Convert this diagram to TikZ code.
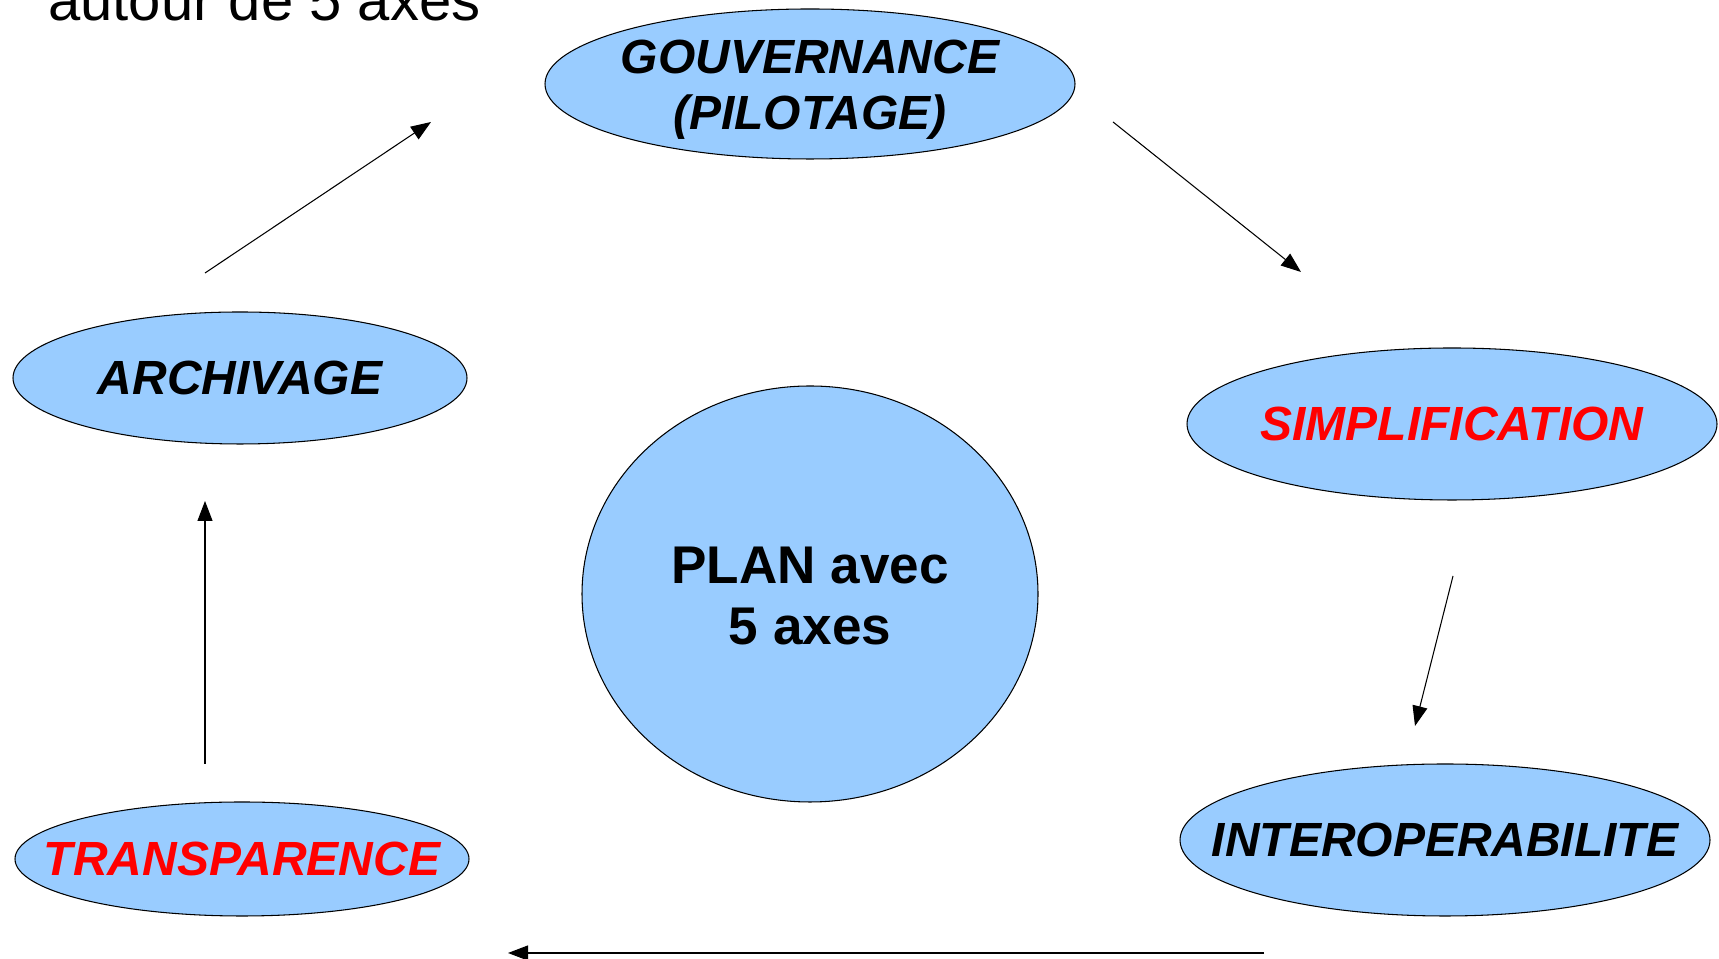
\documentclass[tikz,border=0pt]{standalone}
\usepackage{fontspec}
\setmainfont{Liberation Sans}
\usetikzlibrary{shapes.geometric,arrows.meta}

\definecolor{axefill}{RGB}{153,204,255}
\definecolor{axered}{RGB}{255,0,0}

\tikzset{
    axe/.style={ellipse, draw=black, line width=0.6pt, fill=axefill, inner sep=0pt},
    axetext/.style={inner sep=0pt, align=center,
        font=\fontsize{27.3}{31.9}\selectfont\bfseries\itshape},
    fleche/.style={line width=0.6pt, -{Triangle[length=4mm,width=3mm]}}
}

\begin{document}
\begin{tikzpicture}

    \useasboundingbox (0,0) rectangle (34.38,19.18);

    %% Title
    \node[anchor=base west, inner sep=0pt, font=\fontsize{33}{38}\selectfont]
        (titre) at (0.96,18.76) {autour de 5 axes};

    %% Centre
    \node[axe, minimum width=9.12cm, minimum height=8.32cm,
        label={[inner sep=0pt, align=center, yshift=-0.04cm,
            font=\fontsize{30.2}{34.2}\selectfont\bfseries]center:{PLAN avec\\5 axes}}]
        (plan) at (16.2,7.3) {};

    %% The five axes
    \node[axe, minimum width=10.6cm, minimum height=3cm,
        label={[axetext, yshift=-0.11cm]center:{GOUVERNANCE\\(PILOTAGE)}}]
        (gouv) at (16.2,17.5) {};
    \node[axe, minimum width=10.6cm, minimum height=3.04cm,
        label={[axetext, text=axered]center:SIMPLIFICATION}]
        (simpl) at (29.04,10.7) {};
    \node[axe, minimum width=10.6cm, minimum height=3.04cm,
        label={[axetext]center:INTEROPERABILITE}]
        (inter) at (28.9,2.38) {};
    \node[axe, minimum width=9.08cm, minimum height=2.28cm,
        label={[axetext, text=axered]center:TRANSPARENCE}]
        (transp) at (4.84,2.0) {};
    \node[axe, minimum width=9.08cm, minimum height=2.64cm,
        label={[axetext]center:ARCHIVAGE}]
        (archi) at (4.8,11.62) {};

    %% Arrow ends
    \coordinate (a1) at (4.1,13.72);   \coordinate (b1) at (8.62,16.74);
    \coordinate (a2) at (22.26,16.74); \coordinate (b2) at (26.02,13.74);
    \coordinate (a3) at (29.06,7.66);  \coordinate (b3) at (28.3,4.66);
    \coordinate (a4) at (25.28,0.12);  \coordinate (b4) at (10.16,0.12);
    \coordinate (a5) at (4.1,3.9);     \coordinate (b5) at (4.1,9.16);

    %% Cycle
    \draw[fleche] (a1) -- (b1);
    \draw[fleche] (a2) -- (b2);
    \draw[fleche] (a3) -- (b3);
    \draw[fleche] (a4) -- (b4);
    \draw[fleche] (a5) -- (b5);

\end{tikzpicture}
\end{document}
